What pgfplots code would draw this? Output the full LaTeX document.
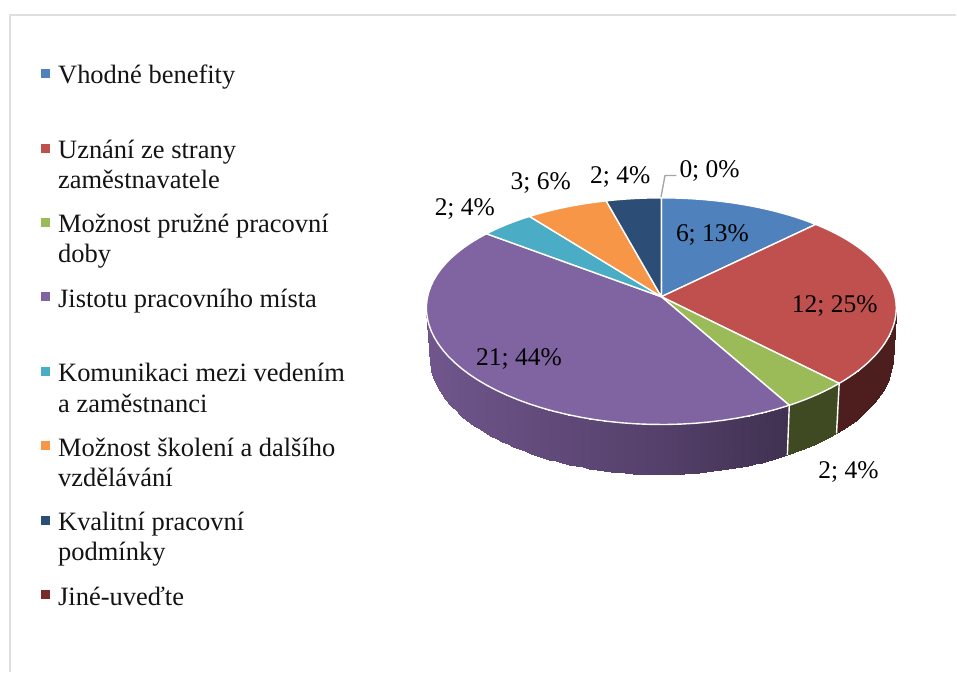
\documentclass[border=0pt]{standalone}
\usepackage{fontspec}
\setmainfont{Liberation Serif}
\usepackage{pgfplots}
\usepackage{pgfplotstable}
\pgfplotsset{compat=1.18}

% Responses per category
\pgfplotstableread{
val
6
12
2
21
2
3
2
0
}\pietable

\definecolor{cA}{HTML}{4F81BD}
\definecolor{cB}{HTML}{C0504D}
\definecolor{cC}{HTML}{9BBB59}
\definecolor{cD}{HTML}{8064A2}
\definecolor{cE}{HTML}{4BACC6}
\definecolor{cF}{HTML}{F79646}
\definecolor{cG}{HTML}{2C4D75}
\definecolor{cH}{HTML}{772C2A}

% Cumulative slice angles, clockwise from twelve o'clock
\pgfmathsetmacro{\total}{48}
\def\running{0}
\newcommand\nextangle[2]{%
  \pgfplotstablegetelem{#1}{val}\of\pietable
  \pgfmathsetmacro{\running}{\running+\pgfplotsretval}%
  \pgfmathsetmacro{#2}{\running*(360/\total)}%
  \global\let#2#2%
  \global\let\running\running}
\nextangle{0}{\aA}
\nextangle{1}{\aB}
\nextangle{2}{\aC}
\nextangle{3}{\aD}
\nextangle{4}{\aE}
\nextangle{5}{\aF}
\nextangle{6}{\aG}

% Perspective projection of the rim relative to the centre
\tikzset{declare function={
  PX(\a)=234*sin(\a)/(1+0.1*cos(\a));
  PY(\a)=111.6*cos(\a)/(1+0.1277*cos(\a));
}}

\newcommand\topslice[3]{%
  \addplot[fill=#3,draw=white,line width=1.4pt,line join=round,domain=#1:#2,samples=50]
    ({662+PX(x)},{297-PY(x)}) -- (axis cs:662,297) -- cycle;}
\newcommand\wall[5]{%
  \addplot3[surf,shader=interp,domain=#1:#2,y domain=0:1,samples=#3,samples y=2,
    point meta=x,colormap={#5}{#4}]
    ({662+(1-0.015*y)*PX(x)},{297-PY(x)+50*y},{0});}
\newcommand\wallsep[1]{%
  \addplot[white,line width=1.4pt,domain=0:1,samples=2]
    ({662+(1-0.015*x)*PX(#1)},{297-PY(#1)+50*x});}
\newcommand\legendkey[3]{%
  \addplot[only marks,mark=square*,mark size=4.1pt,color=#3,mark options={draw=none,fill=#3}]
    coordinates {(#1,#2)};}
\newcommand\ltext[3]{\node[anchor=base west,inner sep=0pt,yshift=-1pt,font=\fontsize{26.5}{30}\selectfont,text=black!92] at (axis cs:#1,#2) {#3};}
\newcommand\dlabel[3]{\node[anchor=base west,inner sep=0pt,yshift=-0.8pt,font=\fontsize{25.5}{30}\selectfont,text=black] at (axis cs:#1,#2) {#3};}

\begin{document}
\begin{tikzpicture}
\begin{axis}[
  scale only axis,width=957pt,height=673pt,
  xmin=0,xmax=957,ymin=0,ymax=673,zmin=-1,zmax=1,
  y dir=reverse,view={0}{90},
  hide axis,clip=false,
]
  \fill[white] (axis cs:0,0) rectangle (axis cs:957,673);
  % Frame
  \addplot[color={rgb,255:red,223;green,223;blue,223},line width=2pt]
    coordinates {(10,673) (10,15.5) (957,15.5)};

  % Outer walls
  \wall{95.7}{\aB}{20}{rgb255=(84,32,32) rgb255=(76,30,29)}{wallred}
  \wall{\aB}{\aC}{6}{rgb255=(66,76,36) rgb255=(62,72,34)}{wallgreen}
  \wall{\aC}{264.3}{70}{rgb255=(112,86,140) rgb255=(84,64,106) rgb255=(47,36,59)}{wallpurple}
  \wallsep{\aB}
  \wallsep{\aC}

  % Top face
  \topslice{0}{\aA}{cA}
  \topslice{\aA}{\aB}{cB}
  \topslice{\aB}{\aC}{cC}
  \topslice{\aC}{\aD}{cD}
  \topslice{\aD}{\aE}{cE}
  \topslice{\aE}{\aF}{cF}
  \topslice{\aF}{\aG}{cG}

  % Leader to the empty slice
  \addplot[color={rgb,255:red,166;green,166;blue,166},line width=1.4pt]
    coordinates {(661.7,197) (665.7,175.7) (677,175.7)};

  % Data labels
  \dlabel{680}{177}{0; 0\%}
  \dlabel{676.5}{241}{6; 13\%}
  \dlabel{792.5}{312}{12; 25\%}
  \dlabel{819}{478}{2; 4\%}
  \dlabel{476.5}{365}{21; 44\%}
  \dlabel{435}{215}{2; 4\%}
  \dlabel{511}{189}{3; 6\%}
  \dlabel{590.5}{183}{2; 4\%}

  % Legend
  \legendkey{45.2}{73.2}{cA}
  \legendkey{45.2}{148.2}{cB}
  \legendkey{45.2}{222.4}{cC}
  \legendkey{45.2}{296.8}{cD}
  \legendkey{45.2}{371.5}{cE}
  \legendkey{45.2}{446}{cF}
  \legendkey{45.2}{520.8}{cG}
  \legendkey{45.2}{595}{cH}
  \ltext{58}{83}{Vhodné benefity}
  \ltext{58}{158}{Uznání ze strany}
  \ltext{58}{188}{zaměstnavatele}
  \ltext{58}{232}{Možnost pružné pracovní}
  \ltext{58}{262}{doby}
  \ltext{58}{307}{Jistotu pracovního místa}
  \ltext{58}{381}{Komunikaci mezi vedením}
  \ltext{58}{411.5}{a zaměstnanci}
  \ltext{58}{456}{Možnost školení a dalšího}
  \ltext{58}{486}{vzdělávání}
  \ltext{58}{530}{Kvalitní pracovní}
  \ltext{58}{560}{podmínky}
  \ltext{58}{605}{Jiné-uveďte}
\end{axis}
\end{tikzpicture}
\end{document}
